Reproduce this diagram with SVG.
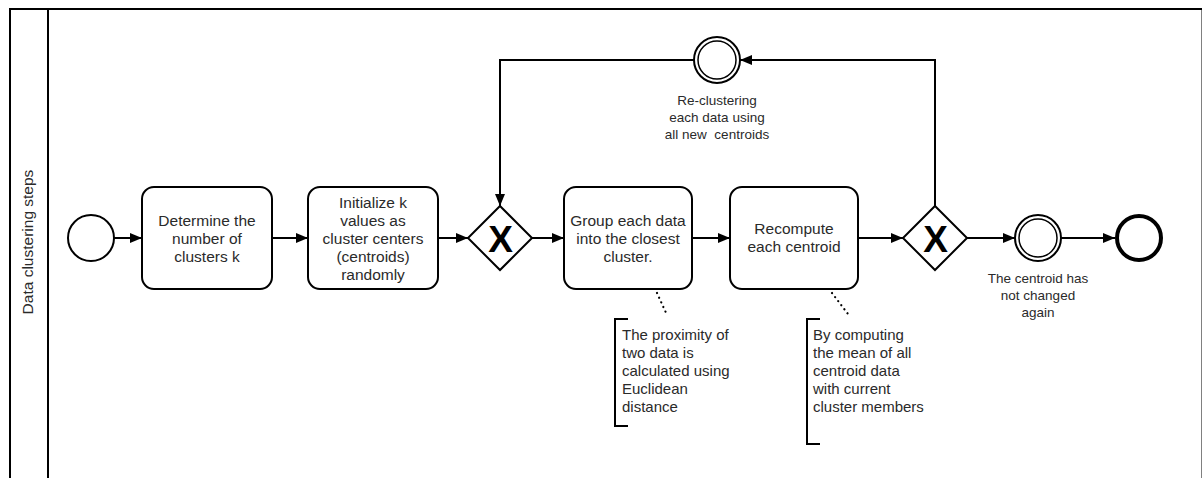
<svg xmlns="http://www.w3.org/2000/svg" width="1202" height="478" viewBox="0 0 1202 478">
  <defs>
    <marker id="arrow" viewBox="0 0 12 10" refX="12" refY="5" markerWidth="12" markerHeight="10" markerUnits="userSpaceOnUse" orient="auto">
      <path d="M0,0 L12,5 L0,10 Z" fill="#000"/>
    </marker>
    <style>
      .pool { fill: #fff; stroke: #000; stroke-width: 2; }
      .task { fill: #fff; stroke: #000; stroke-width: 2; }
      .gw { fill: #fff; stroke: #000; stroke-width: 2; }
      .ev { fill: #fff; stroke: #000; stroke-width: 2; }
      .ev-inner { fill: none; stroke: #000; stroke-width: 1.5; }
      .ev-end { fill: #fff; stroke: #000; stroke-width: 4; }
      .flow { fill: none; stroke: #000; stroke-width: 2; marker-end: url(#arrow); }
      .assoc { fill: none; stroke: #000; stroke-width: 2.2; stroke-dasharray: 0.1 5; stroke-linecap: round; }
      .bracket { fill: none; stroke: #000; stroke-width: 2; }
      text { font-family: "Liberation Sans", Arial, sans-serif; fill: #2a2a2a; white-space: pre; }
      .t { font-size: 15.5px; text-anchor: middle; }
      .lbl { font-size: 13.5px; text-anchor: middle; }
      .note { font-size: 15px; }
      .x { font-size: 37px; font-weight: bold; text-anchor: middle; fill: #000; }
    </style>
  </defs>

  <!-- pool and lane header -->
  <g id="pool">
    <rect class="pool" x="10" y="9" width="1192.5" height="500"/>
    <line x1="48" y1="9" x2="48" y2="478" stroke="#000" stroke-width="2"/>
    <text class="t" transform="translate(33,242) rotate(-90)">Data clustering steps</text>
  </g>

  <!-- sequence flows and associations -->
  <g id="connectors">
    <path class="flow" d="M114,238 H142"/>
    <path class="flow" d="M272,238 H308"/>
    <path class="flow" d="M438,238 H468"/>
    <path class="flow" d="M532,238 H564"/>
    <path class="flow" d="M692,238 H730"/>
    <path class="flow" d="M858,238 H903"/>
    <path class="flow" d="M967,238 H1015"/>
    <path class="flow" d="M1061,238 H1115"/>
    <path class="flow" d="M935,206 V60 H740"/>
    <path class="flow" d="M694,60 H500 V206"/>
    <path class="assoc" d="M657,293 L667,315"/>
    <path class="assoc" d="M832,293 L848,314"/>
  </g>

  <g id="start">
    <circle class="ev" cx="91" cy="238" r="23"/>
  </g>

  <g id="task-determine">
    <rect class="task" x="142" y="187" width="130" height="102" rx="12"/>
    <text class="t" x="207" y="226">Determine the</text>
    <text class="t" x="207" y="244">number of</text>
    <text class="t" x="207" y="262">clusters k</text>
  </g>

  <g id="task-initialize">
    <rect class="task" x="308" y="187" width="130" height="102" rx="12"/>
    <text class="t" x="373" y="208">Initialize k</text>
    <text class="t" x="373" y="226">values as</text>
    <text class="t" x="373" y="244">cluster centers</text>
    <text class="t" x="373" y="262">(centroids)</text>
    <text class="t" x="373" y="280">randomly</text>
  </g>

  <g id="gateway-merge">
    <path class="gw" d="M500,206 L532,238 L500,270 L468,238 Z"/>
    <text class="x" x="500.5" y="251.5">X</text>
  </g>

  <g id="task-group">
    <rect class="task" x="564" y="187" width="128" height="102" rx="12"/>
    <text class="t" x="628" y="226">Group each data</text>
    <text class="t" x="628" y="244">into the closest</text>
    <text class="t" x="628" y="262">cluster.</text>
  </g>

  <g id="task-recompute">
    <rect class="task" x="730" y="187" width="128" height="102" rx="12"/>
    <text class="t" x="794" y="234">Recompute</text>
    <text class="t" x="794" y="252">each centroid</text>
  </g>

  <g id="gateway-split">
    <path class="gw" d="M935,206 L967,238 L935,270 L903,238 Z"/>
    <text class="x" x="935.5" y="251.5">X</text>
  </g>

  <g id="event-recluster">
    <circle class="ev" cx="717" cy="60" r="23"/>
    <circle class="ev-inner" cx="717" cy="60" r="19"/>
    <text class="lbl" x="717" y="105">Re-clustering</text>
    <text class="lbl" x="717" y="122">each data using</text>
    <text class="lbl" x="717" y="139">all new  centroids</text>
  </g>

  <g id="event-unchanged">
    <circle class="ev" cx="1038" cy="238" r="23"/>
    <circle class="ev-inner" cx="1038" cy="238" r="19"/>
    <text class="lbl" x="1038" y="283">The centroid has</text>
    <text class="lbl" x="1038" y="300">not changed</text>
    <text class="lbl" x="1038" y="317">again</text>
  </g>

  <g id="end">
    <circle class="ev-end" cx="1139" cy="238" r="22"/>
  </g>

  <g id="note-proximity">
    <path class="bracket" d="M628,319 H615 V426 H628"/>
    <text class="note" x="622" y="340">The proximity of</text>
    <text class="note" x="622" y="358">two data is</text>
    <text class="note" x="622" y="376">calculated using</text>
    <text class="note" x="622" y="394">Euclidean</text>
    <text class="note" x="622" y="412">distance</text>
  </g>

  <g id="note-mean">
    <path class="bracket" d="M820,319 H807 V444 H820"/>
    <text class="note" x="813" y="340">By computing</text>
    <text class="note" x="813" y="358">the mean of all</text>
    <text class="note" x="813" y="376">centroid data</text>
    <text class="note" x="813" y="394">with current</text>
    <text class="note" x="813" y="412">cluster members</text>
  </g>
</svg>
